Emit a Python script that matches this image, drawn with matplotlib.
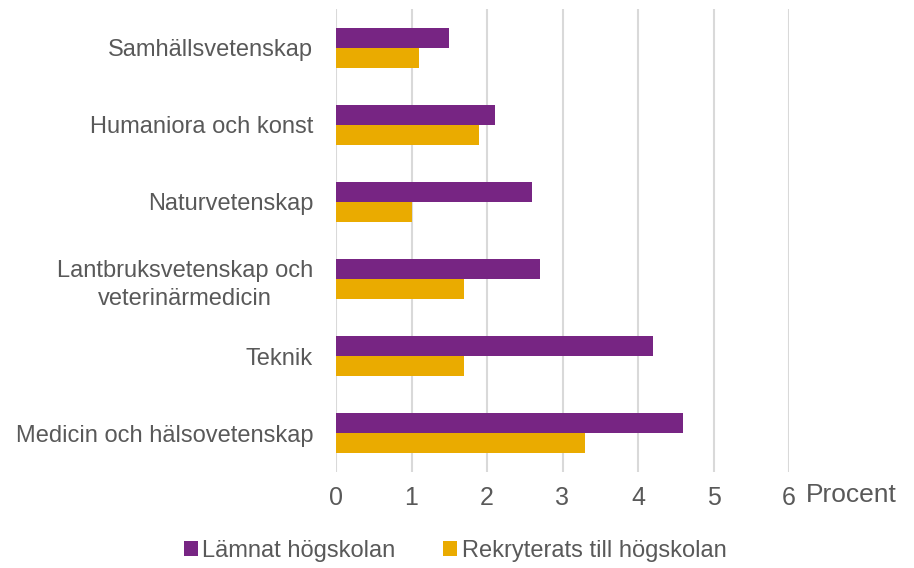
import matplotlib.pyplot as plt
import numpy as np

plt.rcParams['font.family'] = ['Liberation Sans', 'DejaVu Sans']

# Categories from bottom to top
categories = ["Medicin och hälsovetenskap", "Teknik",
              "Lantbruksvetenskap och\nveterinärmedicin", "Naturvetenskap",
              "Humaniora och konst", "Samhällsvetenskap"]
lamnat = [4.6, 4.2, 2.7, 2.6, 2.1, 1.5]
rekryterat = [3.3, 1.7, 1.7, 1.0, 1.9, 1.1]
ticks = [0, 1, 2, 3, 4, 5, 6]

purple = "#772583"
yellow = "#EAAB00"
grey = "#595959"

fig = plt.figure(figsize=(9.14, 5.68), dpi=100)
ax = fig.add_axes([336 / 914, 1 - 472 / 568, (789 - 336) / 914, 463 / 568])

y = np.arange(len(categories))
h = 0.26
ax.barh(y + h / 2, lamnat, height=h, color=purple, label="Lämnat högskolan", zorder=3)
ax.barh(y - h / 2, rekryterat, height=h, color=yellow, label="Rekryterats till högskolan", zorder=3)

ax.set_xlim(0, 6)
ax.set_ylim(-0.5, len(categories) - 0.5)
ax.set_xticks(ticks)
ax.set_xticklabels([str(t) for t in ticks])
ax.set_yticks(y)
ax.set_yticklabels(categories, ha="right", multialignment="center", linespacing=1.35)
ax.tick_params(axis="both", length=0, labelsize=17, colors=grey)
ax.tick_params(axis="x", pad=10, labelsize=18)
ax.tick_params(axis="y", pad=16.5)
ax.grid(axis="x", color="#d9d9d9", linewidth=1.5, zorder=0)
for s in ax.spines.values():
    s.set_visible(False)

fig.text(806 / 914, 1 - 495 / 568, "Procent", fontsize=19, color=grey, va="center", ha="left")

leg = fig.legend(loc="center", bbox_to_anchor=(455 / 914, 1 - 551 / 568), ncol=2,
                 frameon=False, fontsize=17, handlelength=0.6, handleheight=0.6,
                 handletextpad=0.2, columnspacing=2.0)
for t in leg.get_texts():
    t.set_color(grey)

fig.savefig("out.png", dpi=100)
